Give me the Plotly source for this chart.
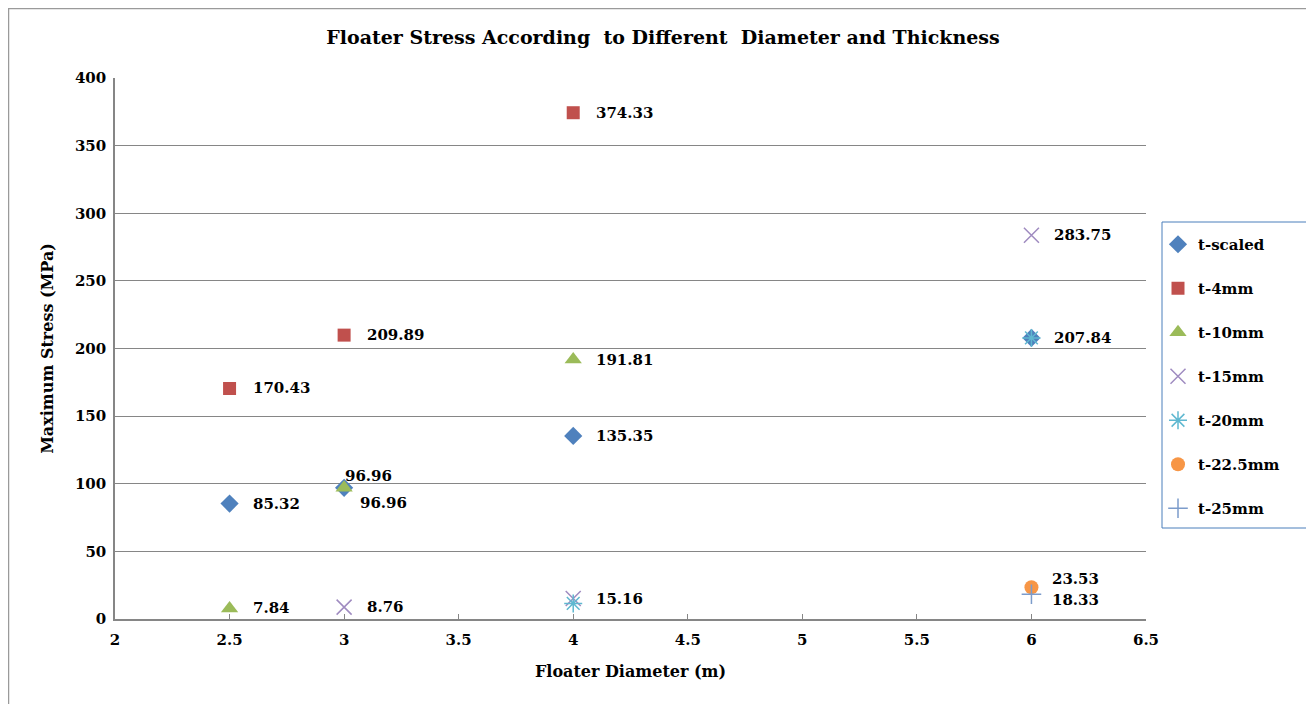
import plotly.graph_objects as go

# ---- data ----
series_names = ["t-scaled", "t-4mm", "t-10mm", "t-15mm", "t-20mm", "t-22.5mm", "t-25mm"]
x_scaled = [2.5, 3, 4, 6]
y_scaled = [85.32, 96.96, 135.35, 207.84]
x_4mm = [2.5, 3, 4]
y_4mm = [170.43, 209.89, 374.33]
x_10mm = [2.5, 3, 4]
y_10mm = [7.84, 96.96, 191.81]
x_15mm = [3, 4, 6]
y_15mm = [8.76, 15.16, 283.75]
x_20mm = [4, 6]
y_20mm = [11.5, 207.84]
x_225mm = [6]
y_225mm = [23.53]
x_25mm = [6]
y_25mm = [18.33]

x_ticks = [2, 2.5, 3, 3.5, 4, 4.5, 5, 5.5, 6, 6.5]
y_ticks = [0, 50, 100, 150, 200, 250, 300, 350, 400]

FONT = "DejaVu Serif"

# figure geometry (page has an 8px body margin)
W, H = 1306, 696
ML, MR, MT, MB = 107, 168, 70, 85
PW, PH = W - ML - MR, H - MT - MB


def px(xp):  # page pixel x -> paper
    return (xp - 8 - ML) / PW


def py(yp):  # page pixel y -> paper
    return (H - MB - (yp - 8)) / PH


styles = [
    dict(symbol="diamond", color="#4F81BD", size=14, lw=0, lc="#4F81BD"),
    dict(symbol="square", color="#C0504D", size=13, lw=0, lc="#C0504D"),
    dict(symbol="triangle-up", color="#9BBB59", size=15, lw=0, lc="#9BBB59"),
    dict(symbol="x-thin", color="#8064A2", size=15, lw=1.5, lc="#9F8BC0"),
    dict(symbol="asterisk", color="#4BACC6", size=15, lw=1.5, lc="#5FB8D0"),
    dict(symbol="circle", color="#F79646", size=14, lw=0, lc="#F79646"),
    dict(symbol="cross-thin", color="#7C9CCB", size=14, lw=1.5, lc="#7C9CCB"),
]
xs = [x_scaled, x_4mm, x_10mm, x_15mm, x_20mm, x_225mm, x_25mm]
ys = [y_scaled, y_4mm, y_10mm, y_15mm, y_20mm, y_225mm, y_25mm]

fig = go.Figure()
for i, (name, st, xv, yv) in enumerate(zip(series_names, styles, xs, ys)):
    fig.add_trace(go.Scatter(
        x=xv, y=yv, mode="markers", name=name, legendgroup=name,
        marker=dict(symbol=st["symbol"], color=st["color"], size=st["size"],
                    line=dict(width=st["lw"], color=st["lc"])),
        cliponaxis=False,
    ))

# data labels: (series index, point index, xshift, yshift)
labels = [
    (0, 0, 21, 0), (0, 1, 14, -15), (0, 2, 21, 0), (0, 3, 21, 0),
    (1, 0, 21, 0), (1, 1, 21, 0), (1, 2, 21, 0),
    (2, 0, 21, 0), (2, 1, -1, 12), (2, 2, 21, 0),
    (3, 0, 21, 0), (3, 1, 21, 0), (3, 2, 21, 0),
    (5, 0, 19, 8), (6, 0, 19, -6),
]
for si, pi, dx, dy in labels:
    fig.add_annotation(x=xs[si][pi], y=ys[si][pi], text=f"{ys[si][pi]:.2f}",
                       showarrow=False, xanchor="left", yanchor="middle",
                       xshift=dx, yshift=dy,
                       font=dict(family=FONT, size=15, color="black", weight="bold"))

# outer chart border
fig.add_shape(type="rect", xref="paper", yref="paper",
              x0=(0.5 - ML) / PW, x1=1.3, y0=-0.3, y1=(H - MB - 0.5) / PH,
              line=dict(color="#9A9A9A", width=1.5), fillcolor="rgba(0,0,0,0)", layer="below")
# legend box
fig.add_shape(type="rect", xref="paper", yref="paper",
              x0=px(1162), x1=px(1307), y0=py(528), y1=py(222),
              line=dict(color="#4A7EBB", width=1), fillcolor="white", layer="below")

fig.update_layout(
    width=W, height=H,
    margin=dict(l=ML, r=MR, t=MT, b=MB),
    paper_bgcolor="white", plot_bgcolor="rgba(0,0,0,0)",
    title=dict(text="Floater Stress According  to Different  Diameter and Thickness",
               x=px(663), xref="paper", xanchor="center",
               y=1 - (37 - 8) / H, yanchor="middle",
               font=dict(family=FONT, size=19, color="black", weight="bold")),
    showlegend=True,
    legend=dict(x=px(1158), y=py(228), xanchor="left", yanchor="top",
                borderwidth=0, bgcolor="rgba(0,0,0,0)",
                tracegroupgap=21.5, itemwidth=30,
                font=dict(family=FONT, size=15, color="black", weight="bold")),
    xaxis=dict(range=[2, 6.5], tickvals=x_ticks, ticktext=[f"{v:g}" for v in x_ticks],
               showgrid=False, zeroline=False, showline=True, linecolor="#868686", linewidth=1.5,
               ticks="inside", ticklen=5, tickcolor="#868686", ticklabelstandoff=6,
               tickfont=dict(family=FONT, size=15, color="black", weight="bold"),
               title=dict(text="Floater Diameter (m)", standoff=18,
                          font=dict(family=FONT, size=16, color="black", weight="bold"))),
    yaxis=dict(range=[0, 400], tickvals=y_ticks, showgrid=True, gridcolor="#868686", gridwidth=1,
               zeroline=False, showline=True, linecolor="#868686", linewidth=1.5, ticks="",
               ticklabelstandoff=4,
               tickfont=dict(family=FONT, size=15, color="black", weight="bold"),
               title=dict(text="Maximum Stress (MPa)", standoff=17,
                          font=dict(family=FONT, size=16, color="black", weight="bold"))),
)

fig.write_html("out.html")
